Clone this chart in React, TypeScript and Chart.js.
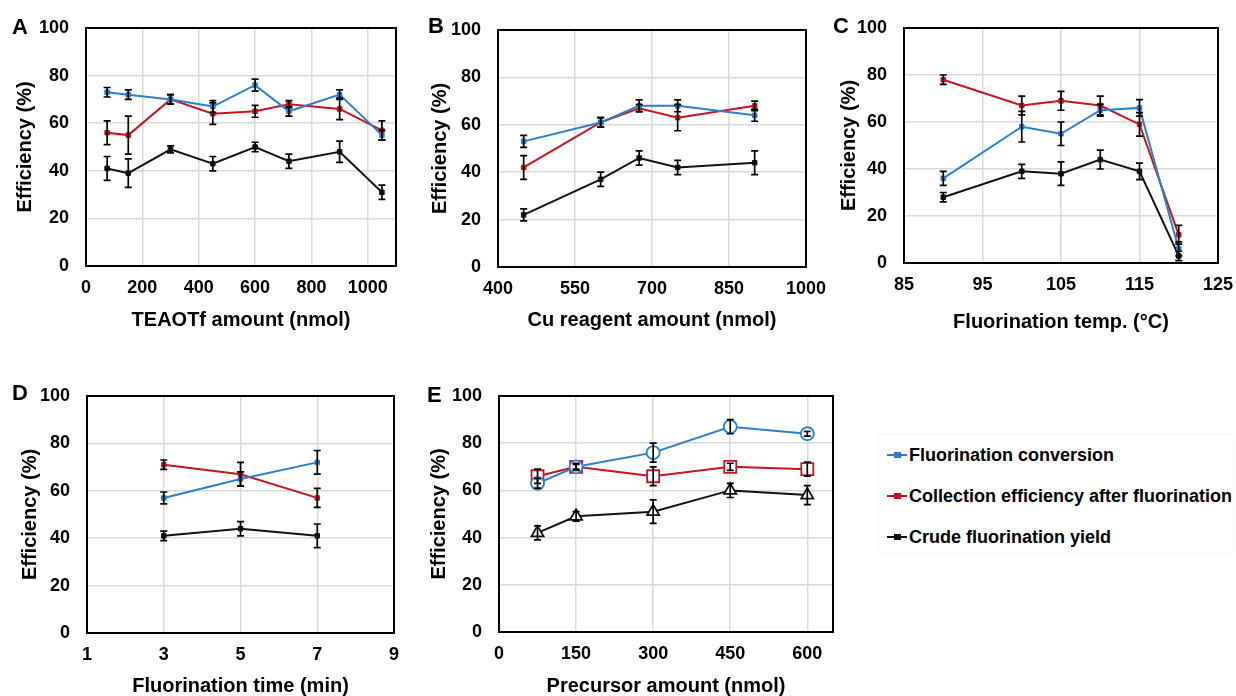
import React, { useEffect, useRef } from "react";
import { Chart, registerables } from "chart.js";

Chart.register(...registerables);

const FONT = "'Liberation Sans', Arial, sans-serif";
const BLUE = "#2a7fd0";
const RED = "#c8141c";
const BLACK = "#111111";

const seriesLabels = [
  "Fluorination conversion",
  "Collection efficiency after fluorination",
  "Crude fluorination yield",
];
const yTicks = [0, 20, 40, 60, 80, 100];

// Panel A – TEAOTf amount
const aX = [75, 150, 300, 450, 600, 720, 900, 1050];
const aConv = [73, 72, 70, 67, 76, 65, 72, 55];
const aConvErr = [2, 2, 2, 2.5, 2.5, 2, 2, 2];
const aColl = [56, 55, 70, 64, 65, 68, 66, 57];
const aCollErr = [5, 8, 2, 4.5, 2.5, 1.5, 4.5, 4];
const aCrude = [41, 39, 49, 43, 50, 44, 48, 31];
const aCrudeErr = [5, 6, 1.5, 3, 2, 3, 4.5, 3];
const aTicks = [0, 200, 400, 600, 800, 1000];

// Panel B – Cu reagent amount
const bX = [450, 600, 675, 750, 900];
const bConv = [53, 61, 68, 68, 64];
const bConvErr = [2.5, 2, 2.5, 2.5, 2.5];
const bColl = [42, 61, 67, 63, 68];
const bCollErr = [5, 2, 1.5, 5.5, 2];
const bCrude = [22, 37, 46, 42, 44];
const bCrudeErr = [2.5, 3, 3, 3, 5];
const bTicks = [400, 550, 700, 850, 1000];

// Panel C – Fluorination temperature
const cX = [90, 100, 105, 110, 115, 120];
const cConv = [36, 58, 55, 65, 66, 6];
const cConvErr = [3, 6.5, 5, 2.5, 3.5, 3];
const cColl = [78, 67, 69, 67, 59, 12];
const cCollErr = [2, 4, 4, 4, 5, 4];
const cCrude = [28, 39, 38, 44, 39, 3];
const cCrudeErr = [2, 3, 5, 4, 3.5, 2];
const cTicks = [85, 95, 105, 115, 125];

// Panel D – Fluorination time
const dX = [3, 5, 7];
const dConv = [57, 65, 72];
const dConvErr = [2.5, 3, 5];
const dColl = [71, 67, 57];
const dCollErr = [2, 5, 4];
const dCrude = [41, 44, 41];
const dCrudeErr = [2, 3, 5];
const dTicks = [1, 3, 5, 7, 9];

// Panel E – Precursor amount
const eX = [75, 150, 300, 450, 600];
const eConv = [63, 70, 76, 87, 84];
const eConvErr = [2, 1, 4, 3, 1];
const eColl = [66, 70, 66, 70, 69];
const eCollErr = [3, 1.5, 4, 1.5, 3];
const eCrude = [42, 49, 51, 60, 58];
const eCrudeErr = [3, 2, 5, 3, 4];
const eTicks = [0, 150, 300, 450, 600];

const errorBarPlugin = {
  id: "errbars",
  afterDatasetsDraw(chart: any) {
    const ctx = chart.ctx;
    const ys = chart.scales.y;
    chart.data.datasets.forEach((ds: any, di: number) => {
      const errs = ds.errors;
      if (!errs) return;
      const meta = chart.getDatasetMeta(di);
      ctx.save();
      ctx.strokeStyle = "#000";
      ctx.lineWidth = 1.7;
      meta.data.forEach((pt: any, i: number) => {
        const v = ds.data[i].y;
        const e = errs[i];
        const x = pt.x;
        const y1 = ys.getPixelForValue(v + e);
        const y2 = ys.getPixelForValue(v - e);
        ctx.beginPath();
        ctx.moveTo(x, y1);
        ctx.lineTo(x, y2);
        ctx.moveTo(x - 3.5, y1);
        ctx.lineTo(x + 3.5, y1);
        ctx.moveTo(x - 3.5, y2);
        ctx.lineTo(x + 3.5, y2);
        ctx.stroke();
      });
      ctx.restore();
    });
  },
};

const framePlugin = {
  id: "frame",
  beforeDatasetsDraw(chart: any) {
    const { ctx, chartArea: a } = chart;
    ctx.save();
    ctx.strokeStyle = "#000";
    ctx.lineWidth = 2;
    ctx.strokeRect(a.left, a.top, a.right - a.left, a.bottom - a.top);
    ctx.restore();
  },
};

type PanelDef = {
  letter: string;
  letterPos: [number, number];
  box: { left: number; top: number; width: number; height: number };
  area: { l: number; r: number; t: number; b: number };
  xTitle: string;
  xMin: number;
  xMax: number;
  xTicks: number[];
  xs: number[];
  conv: number[];
  convErr: number[];
  coll: number[];
  collErr: number[];
  crude: number[];
  crudeErr: number[];
  hollow: boolean;
  yTitlePad: number;
  xTitlePad: number;
};

const panels: PanelDef[] = [
  {
    letter: "A", letterPos: [12, 27],
    box: { left: 0, top: 0, width: 430, height: 340 },
    area: { l: 86, r: 396, t: 28, b: 266 },
    xTitle: "TEAOTf amount (nmol)", xMin: 0, xMax: 1100, xTicks: aTicks, xs: aX,
    conv: aConv, convErr: aConvErr, coll: aColl, collErr: aCollErr, crude: aCrude, crudeErr: aCrudeErr,
    hollow: false, yTitlePad: 13, xTitlePad: 8,
  },
  {
    letter: "B", letterPos: [428, 26],
    box: { left: 410, top: 0, width: 430, height: 340 },
    area: { l: 498, r: 806, t: 30, b: 267 },
    xTitle: "Cu reagent amount (nmol)", xMin: 400, xMax: 1000, xTicks: bTicks, xs: bX,
    conv: bConv, convErr: bConvErr, coll: bColl, collErr: bCollErr, crude: bCrude, crudeErr: bCrudeErr,
    hollow: false, yTitlePad: 18, xTitlePad: 8,
  },
  {
    letter: "C", letterPos: [833, 26],
    box: { left: 820, top: 0, width: 440, height: 340 },
    area: { l: 904, r: 1218, t: 28, b: 263 },
    xTitle: "Fluorination temp. (°C)", xMin: 85, xMax: 125, xTicks: cTicks, xs: cX,
    conv: cConv, convErr: cConvErr, coll: cColl, collErr: cCollErr, crude: cCrude, crudeErr: cCrudeErr,
    hollow: false, yTitlePad: 17, xTitlePad: 6,
  },
  {
    letter: "D", letterPos: [12, 393],
    box: { left: 0, top: 360, width: 430, height: 340 },
    area: { l: 87, r: 394, t: 396, b: 633 },
    xTitle: "Fluorination time (min)", xMin: 1, xMax: 9, xTicks: dTicks, xs: dX,
    conv: dConv, convErr: dConvErr, coll: dColl, collErr: dCollErr, crude: dCrude, crudeErr: dCrudeErr,
    hollow: false, yTitlePad: 18, xTitlePad: 2,
  },
  {
    letter: "E", letterPos: [427, 395],
    box: { left: 410, top: 360, width: 440, height: 340 },
    area: { l: 499, r: 833, t: 396, b: 632 },
    xTitle: "Precursor amount (nmol)", xMin: 0, xMax: 650, xTicks: eTicks, xs: eX,
    conv: eConv, convErr: eConvErr, coll: eColl, collErr: eCollErr, crude: eCrude, crudeErr: eCrudeErr,
    hollow: true, yTitlePad: 17, xTitlePad: 2,
  },
];

function makeConfig(p: PanelDef): any {
  const yWidth = p.area.l - p.box.left;
  const padRight = p.box.left + p.box.width - p.area.r;
  const padTop = p.area.t - p.box.top;
  const xHeight = p.box.top + p.box.height - p.area.b;
  const pts = (ys: number[]) => p.xs.map((x, i) => ({ x, y: ys[i] }));
  const mk = (label: string, ys: number[], errs: number[], color: string, style: string, r: number) => ({
    label,
    data: pts(ys),
    errors: errs,
    borderColor: color,
    backgroundColor: p.hollow ? "#ffffff" : color,
    pointBorderColor: color,
    pointBackgroundColor: p.hollow ? "#ffffff" : color,
    borderWidth: 2,
    pointStyle: style,
    pointRadius: r,
    pointBorderWidth: p.hollow ? 1.8 : 1,
    tension: 0,
    fill: false,
  });
  const datasets = p.hollow
    ? [
        mk(seriesLabels[0], p.conv, p.convErr, BLUE, "circle", 6.5),
        mk(seriesLabels[1], p.coll, p.collErr, RED, "rect", 8.5),
        mk(seriesLabels[2], p.crude, p.crudeErr, BLACK, "triangle", 7),
      ]
    : [
        mk(seriesLabels[0], p.conv, p.convErr, BLUE, "rect", 3.2),
        mk(seriesLabels[1], p.coll, p.collErr, RED, "rect", 3.2),
        mk(seriesLabels[2], p.crude, p.crudeErr, BLACK, "rect", 3.2),
      ];
  const tickFont = { family: FONT, size: 18, weight: "bold" as const };
  const titleFont = { family: FONT, size: 20, weight: "bold" as const };
  return {
    type: "line",
    data: { datasets },
    plugins: [framePlugin, errorBarPlugin],
    options: {
      animation: false,
      responsive: false,
      devicePixelRatio: 1,
      layout: { padding: { left: 0, right: padRight, top: padTop, bottom: 0 } },
      plugins: { legend: { display: false }, tooltip: { enabled: false } },
      scales: {
        x: {
          type: "linear",
          min: p.xMin,
          max: p.xMax,
          afterBuildTicks: (s: any) => {
            s.ticks = p.xTicks.map((v) => ({ value: v }));
          },
          afterFit: (s: any) => {
            s.height = xHeight;
            s.paddingLeft = 0;
            s.paddingRight = 0;
          },
          grid: { color: "#dadada", lineWidth: 1.5, drawTicks: false },
          border: { display: false },
          ticks: {
            padding: 11,
            color: "#000",
            font: tickFont,
            maxRotation: 0,
            autoSkip: false,
            callback: (v: any) => String(v),
          },
          title: {
            display: true,
            text: p.xTitle,
            color: "#000",
            font: titleFont,
            padding: { top: 0, bottom: p.xTitlePad },
          },
        },
        y: {
          min: 0,
          max: 100,
          afterBuildTicks: (s: any) => {
            s.ticks = yTicks.map((v) => ({ value: v }));
          },
          afterFit: (s: any) => {
            s.width = yWidth;
            s.paddingTop = 0;
            s.paddingBottom = 0;
          },
          grid: { color: "#dadada", lineWidth: 1.5, drawTicks: false },
          border: { display: false },
          ticks: {
            padding: 17,
            color: "#000",
            font: tickFont,
            callback: (v: any) => String(v),
          },
          title: {
            display: true,
            text: "Efficiency (%)",
            color: "#000",
            font: titleFont,
            padding: { top: p.yTitlePad, bottom: 0 },
          },
        },
      },
    },
  };
}

function Panel({ p }: { p: PanelDef }) {
  const ref = useRef<HTMLCanvasElement | null>(null);
  useEffect(() => {
    if (!ref.current) return;
    const chart = new Chart(ref.current, makeConfig(p));
    return () => chart.destroy();
  }, [p]);
  return (
    <>
      <canvas
        ref={ref}
        width={p.box.width}
        height={p.box.height}
        style={{ position: "absolute", left: p.box.left, top: p.box.top, width: p.box.width, height: p.box.height }}
      />
      <div
        style={{
          position: "absolute",
          left: p.letterPos[0],
          top: p.letterPos[1] - 11,
          fontFamily: FONT,
          fontWeight: "bold",
          fontSize: 22,
          lineHeight: "22px",
          color: "#000",
        }}
      >
        {p.letter}
      </div>
    </>
  );
}

const legendColors = [BLUE, RED, BLACK];
const legendY = [454, 495, 536];

function Legend() {
  return (
    <div
      style={{
        position: "absolute",
        left: 878,
        top: 434,
        width: 356,
        height: 120,
        border: "1px solid #f7f7f7",
        boxSizing: "border-box",
      }}
    >
      {seriesLabels.map((label, i) => (
        <div
          key={label}
          style={{
            position: "absolute",
            left: 8,
            top: legendY[i] - 434 - 12,
            height: 24,
            display: "flex",
            alignItems: "center",
            whiteSpace: "nowrap",
          }}
        >
          <div style={{ position: "relative", width: 20, height: 24, marginRight: 2 }}>
            <div
              style={{ position: "absolute", left: 0, top: 11, width: 20, height: 2, background: legendColors[i] }}
            />
            <div
              style={{ position: "absolute", left: 7, top: 9, width: 7, height: 6, background: legendColors[i] }}
            />
          </div>
          <span style={{ fontFamily: FONT, fontWeight: "bold", fontSize: 18, color: "#000" }}>{label}</span>
        </div>
      ))}
    </div>
  );
}

export default function App() {
  return (
    <div
      style={{
        position: "fixed",
        left: 0,
        top: 0,
        width: 1236,
        height: 696,
        overflow: "hidden",
        background: "#ffffff",
      }}
    >
      {panels.map((p) => (
        <Panel key={p.letter} p={p} />
      ))}
      <Legend />
    </div>
  );
}
